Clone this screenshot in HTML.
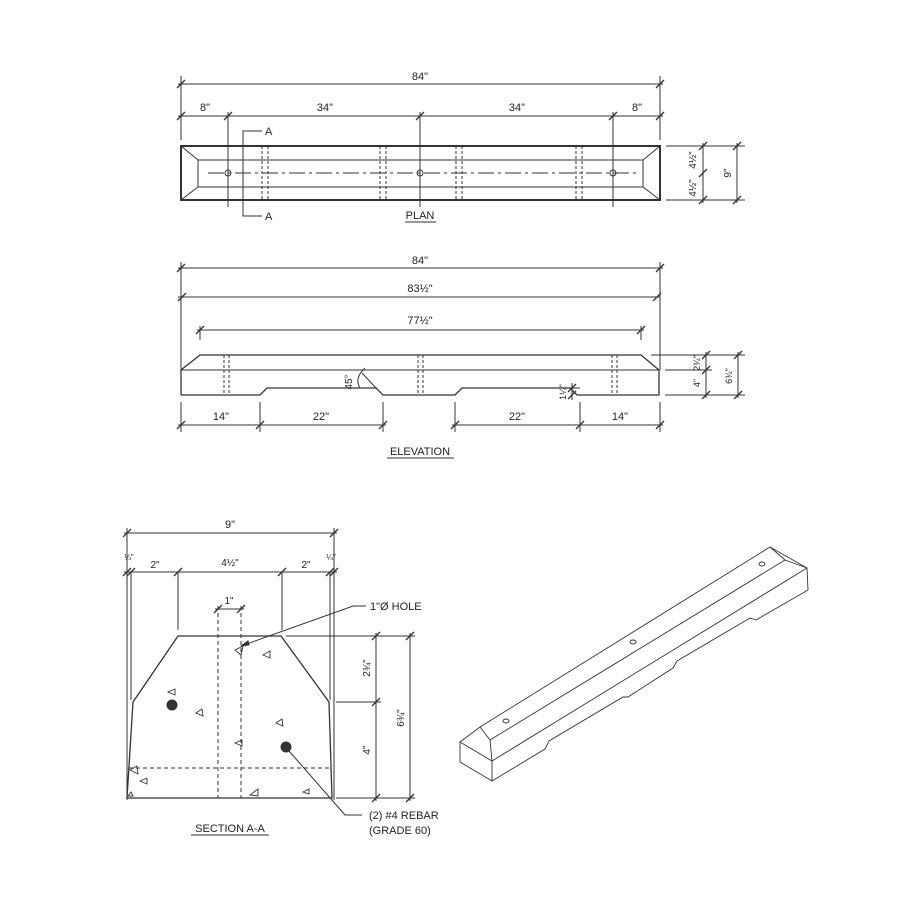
<!DOCTYPE html>
<html><head><style>body{margin:0;background:#fff}svg{display:block}text{font-family:"Liberation Sans",sans-serif;fill:#222}</style></head>
<body>
<svg width="900" height="900" viewBox="0 0 900 900" xmlns="http://www.w3.org/2000/svg" stroke="#333" fill="none" stroke-width="1">
<defs>
<g id="t"><line x1="-4" y1="4" x2="4" y2="-4" stroke-width="1.3"/></g>
</defs>
<!-- PLAN -->
<g>
<line x1="181" y1="76" x2="181" y2="140"/><line x1="660" y1="76" x2="660" y2="140"/>
<line x1="178" y1="84" x2="663" y2="84"/>
<use href="#t" x="181" y="84"/><use href="#t" x="660" y="84"/>
<text x="420" y="80" font-size="11" text-anchor="middle" stroke="none">84"</text>
<line x1="178" y1="116" x2="663" y2="116"/>
<line x1="228" y1="112" x2="228" y2="207"/><line x1="420" y1="112" x2="420" y2="207"/><line x1="613" y1="112" x2="613" y2="207"/>
<use href="#t" x="181" y="116"/><use href="#t" x="228" y="116"/><use href="#t" x="420" y="116"/><use href="#t" x="613" y="116"/><use href="#t" x="660" y="116"/>
<g font-size="11" text-anchor="middle" stroke="none"><text x="205" y="111">8"</text><text x="325" y="111">34"</text><text x="517" y="111">34"</text><text x="637" y="111">8"</text></g>
<rect x="181" y="146" width="479" height="54" stroke-width="2"/>
<rect x="198" y="160" width="445" height="27"/>
<line x1="181" y1="146" x2="198" y2="160"/><line x1="181" y1="200" x2="198" y2="187"/><line x1="660" y1="146" x2="643" y2="160"/><line x1="660" y1="200" x2="643" y2="187"/>
<line x1="208" y1="173" x2="640" y2="173" stroke-dasharray="16,4,3,4"/>
<circle cx="228" cy="173" r="3"/><circle cx="420" cy="173" r="3"/><circle cx="613" cy="173" r="3"/>
<g stroke-dasharray="3,2"><line x1="262" y1="146" x2="262" y2="200"/><line x1="268" y1="146" x2="268" y2="200"/><line x1="380" y1="146" x2="380" y2="200"/><line x1="386" y1="146" x2="386" y2="200"/><line x1="456" y1="146" x2="456" y2="200"/><line x1="462" y1="146" x2="462" y2="200"/><line x1="576" y1="146" x2="576" y2="200"/><line x1="582" y1="146" x2="582" y2="200"/></g>
<polyline points="262,131 243,131 243,216 262,216"/>
<text x="265" y="135" font-size="11" stroke="none">A</text><text x="265" y="220" font-size="11" stroke="none">A</text>
<text x="420" y="219" font-size="11" text-anchor="middle" stroke="none">PLAN</text><line x1="405" y1="222" x2="436" y2="222"/>
<line x1="666" y1="146" x2="745" y2="146"/><line x1="666" y1="200" x2="745" y2="200"/>
<line x1="703" y1="143" x2="703" y2="203"/><line x1="737" y1="143" x2="737" y2="203"/>
<use href="#t" x="703" y="146"/><use href="#t" x="703" y="173"/><use href="#t" x="703" y="200"/><use href="#t" x="737" y="146"/><use href="#t" x="737" y="200"/>
<g font-size="10" stroke="none"><text transform="translate(696,160) rotate(-90)" text-anchor="middle">4½"</text><text transform="translate(696,188) rotate(-90)" text-anchor="middle">4½"</text><text transform="translate(731,173) rotate(-90)" text-anchor="middle">9"</text></g>
</g>
<!-- ELEVATION -->
<g>
<line x1="181" y1="262" x2="181" y2="370"/><line x1="660" y1="262" x2="660" y2="370"/>
<line x1="178" y1="268" x2="663" y2="268"/><use href="#t" x="181" y="268"/><use href="#t" x="660" y="268"/>
<text x="420" y="264" font-size="11" text-anchor="middle" stroke="none">84"</text>
<line x1="178" y1="297" x2="660" y2="297"/><use href="#t" x="182" y="297"/><use href="#t" x="657" y="297"/>
<text x="420" y="292" font-size="11" text-anchor="middle" stroke="none">83½"</text>
<line x1="197" y1="330" x2="644" y2="330"/><use href="#t" x="200" y="330"/><use href="#t" x="641" y="330"/>
<line x1="200" y1="326" x2="200" y2="340"/><line x1="641" y1="326" x2="641" y2="340"/>
<text x="420" y="324" font-size="11" text-anchor="middle" stroke="none">77½"</text>
<polyline points="181,395 181,370 200,355 641,355 659,370 659,395 577,395 570,388 462,388 455,395 383,395 376,388 267,388 260,395 181,395" stroke-width="1.3"/>
<line x1="181" y1="370" x2="659" y2="370"/>
<g stroke-dasharray="3,2"><line x1="224" y1="355" x2="224" y2="395"/><line x1="229" y1="355" x2="229" y2="395"/><line x1="418" y1="355" x2="418" y2="395"/><line x1="423" y1="355" x2="423" y2="395"/><line x1="612" y1="355" x2="612" y2="395"/><line x1="617" y1="355" x2="617" y2="395"/></g>
<path d="M360 388 Q354 378 365 368"/><line x1="362" y1="373" x2="376" y2="388"/>
<text transform="translate(352,382) rotate(-90)" font-size="10" text-anchor="middle" stroke="none">45°</text>
<line x1="558" y1="388" x2="580" y2="388"/><line x1="572" y1="383" x2="572" y2="400"/><use href="#t" x="572" y="388"/><use href="#t" x="572" y="395"/>
<text transform="translate(566,392) rotate(-90)" font-size="9" text-anchor="middle" stroke="none">1¼"</text>
<line x1="651" y1="355" x2="745" y2="355"/><line x1="665" y1="370" x2="712" y2="370"/><line x1="665" y1="395" x2="745" y2="395"/>
<line x1="706" y1="352" x2="706" y2="398"/><line x1="738" y1="352" x2="738" y2="398"/>
<use href="#t" x="706" y="355"/><use href="#t" x="706" y="370"/><use href="#t" x="706" y="395"/><use href="#t" x="738" y="355"/><use href="#t" x="738" y="395"/>
<g font-size="9" stroke="none"><text transform="translate(700,363) rotate(-90)" text-anchor="middle">2¾"</text><text transform="translate(700,383) rotate(-90)" text-anchor="middle">4"</text><text transform="translate(732,376) rotate(-90)" text-anchor="middle">6¾"</text></g>
<line x1="181" y1="402" x2="181" y2="432"/><line x1="260" y1="402" x2="260" y2="432"/><line x1="383" y1="402" x2="383" y2="432"/><line x1="455" y1="402" x2="455" y2="432"/><line x1="580" y1="402" x2="580" y2="432"/><line x1="660" y1="402" x2="660" y2="432"/>
<line x1="178" y1="425" x2="386" y2="425"/><line x1="452" y1="425" x2="663" y2="425"/>
<use href="#t" x="181" y="425"/><use href="#t" x="260" y="425"/><use href="#t" x="383" y="425"/><use href="#t" x="455" y="425"/><use href="#t" x="580" y="425"/><use href="#t" x="660" y="425"/>
<g font-size="11" text-anchor="middle" stroke="none"><text x="221" y="420">14"</text><text x="321" y="420">22"</text><text x="517" y="420">22"</text><text x="620" y="420">14"</text></g>
<text x="420" y="455" font-size="11" text-anchor="middle" stroke="none">ELEVATION</text><line x1="387" y1="458" x2="454" y2="458"/>
</g>
<!-- SECTION -->
<g>
<line x1="127" y1="528" x2="127" y2="800"/><line x1="334" y1="528" x2="334" y2="800"/>
<line x1="124" y1="533" x2="337" y2="533"/><use href="#t" x="127" y="533"/><use href="#t" x="334" y="533"/>
<text x="230" y="528" font-size="11" text-anchor="middle" stroke="none">9"</text>
<line x1="124" y1="572" x2="337" y2="572"/>
<use href="#t" x="127" y="572"/><use href="#t" x="131" y="572"/><use href="#t" x="178" y="572"/><use href="#t" x="282" y="572"/><use href="#t" x="330" y="572"/><use href="#t" x="334" y="572"/>
<line x1="131" y1="572" x2="131" y2="700"/><line x1="330" y1="572" x2="330" y2="700"/><line x1="178" y1="572" x2="178" y2="630"/><line x1="282" y1="572" x2="282" y2="630"/>
<g font-size="10" text-anchor="middle" stroke="none"><text x="155" y="568">2"</text><text x="306" y="568">2"</text><text x="230" y="566">4½"</text><text x="129" y="560" font-size="8">¼"</text><text x="331" y="560" font-size="8">¼"</text><text x="229" y="604">1"</text></g>
<line x1="215" y1="609" x2="244" y2="609"/><use href="#t" x="218" y="609"/><use href="#t" x="241" y="609"/>
<polygon points="178,636 281,636 329,702 332,798 127,798 133,702" stroke-width="1.3"/>
<g stroke-dasharray="4,3"><line x1="218" y1="606" x2="218" y2="798"/><line x1="241" y1="606" x2="241" y2="798"/><line x1="129" y1="768" x2="331" y2="768"/></g>
<circle cx="172" cy="705" r="5" fill="#333"/><circle cx="286" cy="747" r="5" fill="#333"/>
<g stroke-width="0.9"><path d="M235 650l8-4-2 9z"/><path d="M263 655l7-4 0 7z"/><path d="M168 692l7-3 0 6z"/><path d="M196 713l6-4 1 7z"/><path d="M276 723l6-4 1 7z"/><path d="M235 743l7-3 0 6z"/><path d="M130 770l7-4 1 8z"/><path d="M140 781l7-3 0 6z"/><path d="M250 795l8-6 0 7z"/><path d="M303 792l6-3 0 5z"/><path d="M128 796l3-4 2 4z"/></g>
<polyline points="241,646 353,606 366,606"/><path d="M241 646l7-5 1 4z" fill="#333"/>
<text x="370" y="610" font-size="11" stroke="none">1"Ø HOLE</text>
<polyline points="289,751 345,815 362,815"/>
<text x="369" y="819" font-size="11" stroke="none">(2) #4 REBAR</text><text x="369" y="834" font-size="11" stroke="none">(GRADE 60)</text>
<line x1="286" y1="636" x2="415" y2="636"/><line x1="336" y1="702" x2="381" y2="702"/><line x1="336" y1="798" x2="415" y2="798"/>
<line x1="376" y1="633" x2="376" y2="801"/><line x1="410" y1="633" x2="410" y2="801"/>
<use href="#t" x="376" y="636"/><use href="#t" x="376" y="702"/><use href="#t" x="376" y="798"/><use href="#t" x="410" y="636"/><use href="#t" x="410" y="798"/>
<g font-size="10" stroke="none"><text transform="translate(370,668) rotate(-90)" text-anchor="middle">2¾"</text><text transform="translate(370,750) rotate(-90)" text-anchor="middle">4"</text><text transform="translate(404,718) rotate(-90)" text-anchor="middle">6¾"</text></g>
<text x="230" y="832" font-size="11" text-anchor="middle" stroke="none">SECTION A-A</text><line x1="191" y1="835" x2="269" y2="835"/>
</g>
<!-- ISO -->
<g stroke-width="0.9">
<polygon points="460,742 492,761 492,781 460,762"/>
<polyline points="460,742 480,727 770,547 807,568 808,590"/>
<line x1="480" y1="727" x2="490" y2="740"/><line x1="490" y1="740" x2="492" y2="761"/>
<line x1="490" y1="740" x2="785" y2="560"/><line x1="770" y1="547" x2="785" y2="560"/><line x1="785" y1="560" x2="807" y2="568"/>
<line x1="492" y1="761" x2="807" y2="568"/>
<polyline points="492,781 545,749 549,741 623,697 628,697 673,668 677,661 750,618 756,620 808,590"/>
<ellipse cx="506" cy="721" rx="3" ry="2"/><ellipse cx="633" cy="642" rx="3" ry="2"/><ellipse cx="762" cy="564" rx="3" ry="2"/>
</g>
</svg>
</body></html>
